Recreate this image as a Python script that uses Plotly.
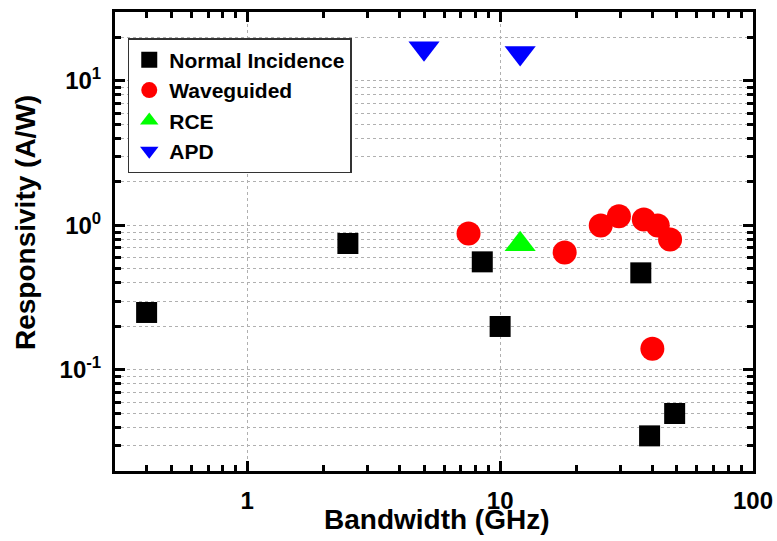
import plotly.graph_objects as go

# ---- data ----
ni_bw = [0.4, 2.5, 8.5, 10, 36, 39, 49]
ni_resp = [0.25, 0.75, 0.56, 0.2, 0.47, 0.035, 0.05]

wg_bw = [7.5, 18, 25, 29.5, 37, 42, 47, 40]
wg_resp = [0.88, 0.65, 1.0, 1.16, 1.1, 1.0, 0.8, 0.14]

rce_bw = [12]
rce_resp = [0.74]

apd_bw = [5, 12]
apd_resp = [16.8, 15.6]

# y tick label replacements (decade labels shown as powers of ten)
y_label_alias = {"0.1": "10<sup>-1</sup>", "1": "10<sup>0</sup>", "10": "10<sup>1</sup>"}

FONT = "Liberation Sans, Arial, sans-serif"
X_RANGE = [-0.523, 2.0]
Y_RANGE = [-1.699, 1.477]

fig = go.Figure()
fig.add_trace(go.Scatter(x=ni_bw, y=ni_resp, mode="markers", name="Normal Incidence",
                         marker=dict(symbol="square", size=21, color="black")))
fig.add_trace(go.Scatter(x=wg_bw, y=wg_resp, mode="markers", name="Waveguided",
                         marker=dict(symbol="circle", size=24, color="#ff0000")))
fig.add_trace(go.Scatter(x=rce_bw, y=rce_resp, mode="markers", name="RCE",
                         marker=dict(symbol="triangle-up", size=27, color="#00ff00")))
fig.add_trace(go.Scatter(x=apd_bw, y=apd_resp, mode="markers", name="APD",
                         marker=dict(symbol="triangle-down", size=27, color="#0000ff")))
# invisible carrier trace for the overlay axes that draw the frame ticks
fig.add_trace(go.Scatter(x=apd_bw, y=apd_resp, mode="markers", xaxis="x2", yaxis="y2",
                         marker=dict(opacity=0), showlegend=False, hoverinfo="skip"))

axis_common = dict(
    type="log", showline=True, linewidth=3, linecolor="black", mirror="allticks",
    ticks="inside", ticklen=10, tickwidth=3, tickcolor="black",
    zeroline=False, automargin=False, dtick=1, ticklabelstandoff=6,
    showgrid=True, gridcolor="#b0b0b0", griddash="dot", gridwidth=1,
    tickfont=dict(family=FONT, size=24, color="black", weight="bold"),
)

tick_axis = dict(
    type="log", showline=True, linewidth=3, linecolor="black", mirror="allticks",
    ticks="inside", ticklen=10, tickwidth=3, tickcolor="black", zeroline=False,
    automargin=False, showgrid=False, showticklabels=False, dtick=1,
    minor=dict(ticks="inside", ticklen=6, tickwidth=3, tickcolor="black", showgrid=False),
)

fig.update_layout(
    xaxis=dict(**axis_common, range=X_RANGE,
               minor=dict(ticks="inside", ticklen=6, tickwidth=3, tickcolor="black",
                          showgrid=False)),
    yaxis=dict(**axis_common, range=Y_RANGE, labelalias=y_label_alias,
               minor=dict(ticks="inside", ticklen=6, tickwidth=3, tickcolor="black",
                          showgrid=True, gridcolor="#b0b0b0", griddash="dot", gridwidth=1)),
    xaxis2=dict(**tick_axis, range=X_RANGE, overlaying="x", anchor="y2"),
    yaxis2=dict(**tick_axis, range=Y_RANGE, overlaying="y", anchor="x2"),
)

fig.add_annotation(text="Bandwidth (GHz)", xref="paper", yref="paper",
                   x=0.505, y=-0.1046, xanchor="center", yanchor="middle", showarrow=False,
                   font=dict(family=FONT, size=28, color="black", weight="bold"))
fig.add_annotation(text="Responsivity (A/W)", xref="paper", yref="paper",
                   x=-0.1395, y=0.5425, xanchor="center", yanchor="middle", showarrow=False,
                   textangle=-90,
                   font=dict(family=FONT, size=28, color="black", weight="bold"))

fig.update_layout(
    width=777, height=541,
    margin=dict(l=115, r=24, t=12, b=70, autoexpand=False),
    paper_bgcolor="white", plot_bgcolor="white",
    showlegend=True,
    legend=dict(x=0.02, y=0.943, xanchor="left", yanchor="top",
                bgcolor="white", bordercolor="#333333", borderwidth=1.5,
                font=dict(family=FONT, size=21, color="black", weight="bold"),
                tracegroupgap=0, itemsizing="trace"),
)

fig.write_html("out.html", config={"displayModeBar": False},
               post_script="document.body.style.margin='0';document.body.style.padding='0';")
